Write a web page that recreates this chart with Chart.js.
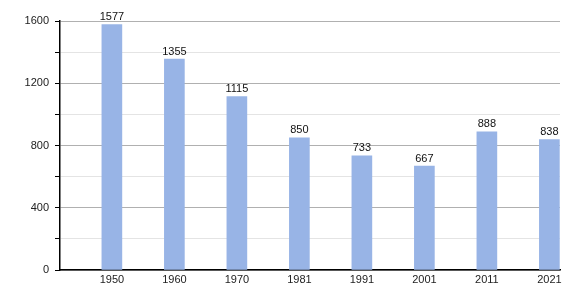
<!DOCTYPE html>
<html>
<head>
<meta charset="utf-8">
<script src="https://cdn.jsdelivr.net/npm/chart.js@4"></script>
<style>
html,body{margin:0;padding:0;background:#fff;}
#wrap{width:580px;height:300px;position:relative;}
</style>
</head>
<body>
<div id="wrap"><canvas id="c" width="580" height="300"></canvas></div>
<script>
const years = ['1950','1960','1970','1981','1991','2001','2011','2021'];
const population = [1577, 1355, 1115, 850, 733, 667, 888, 838];
const yTickLabels = [0, 400, 800, 1200, 1600];

const valueLabels = {
  id: 'valueLabels',
  afterDatasetsDraw(chart) {
    const ctx = chart.ctx;
    const meta = chart.getDatasetMeta(0);
    ctx.save();
    ctx.font = '11px "Liberation Sans", Arial, sans-serif';
    ctx.fillStyle = '#111';
    ctx.textAlign = 'center';
    ctx.textBaseline = 'bottom';
    meta.data.forEach((bar, i) => {
      ctx.fillText(String(population[i]), bar.x, bar.y - 2);
    });
    ctx.restore();
  }
};

Chart.defaults.font.family = '"Liberation Sans", Arial, sans-serif';
Chart.defaults.font.size = 11;
Chart.defaults.color = '#222';

new Chart(document.getElementById('c'), {
  type: 'bar',
  data: {
    datasets: [{
      data: population.map((v, i) => ({x: i, y: v})),
      backgroundColor: '#98b4e6',
      borderWidth: 0,
      barThickness: 20
    }]
  },
  options: {
    responsive: false,
    animation: false,
    events: [],
    layout: {padding: {top: 21, right: 20, left: 0, bottom: 0}},
    plugins: {legend: {display: false}, tooltip: {enabled: false}},
    scales: {
      x: {
        type: 'linear',
        min: -0.83,
        max: 7.17,
        offset: false,
        afterBuildTicks(scale) {
          scale.ticks = years.map((_, i) => ({value: i}));
        },
        afterFit(scale) { scale.height = 30; },
        ticks: {
          autoSkip: false,
          maxRotation: 0,
          padding: 3,
          color: '#222',
          callback: (v) => years[v] !== undefined ? years[v] : ''
        },
        grid: {display: false, drawTicks: false},
        border: {display: true, color: '#000', width: 1.5}
      },
      y: {
        min: 0,
        max: 1600,
        afterBuildTicks(scale) {
          const t = [];
          for (let v = 0; v <= 1600; v += 200) t.push({value: v});
          scale.ticks = t;
        },
        afterFit(scale) { scale.width = 60; },
        ticks: {
          padding: 6,
          color: '#222',
          callback: (v) => yTickLabels.includes(v) ? String(v) : ''
        },
        grid: {
          color: (c) => (c.tick && c.tick.value % 400 === 0) ? '#b0b0b0' : '#e4e4e4',
          tickColor: '#000',
          tickLength: 5,
          drawTicks: true
        },
        border: {display: true, color: '#000', width: 1.5}
      }
    }
  },
  plugins: [valueLabels]
});
</script>
</body>
</html>
